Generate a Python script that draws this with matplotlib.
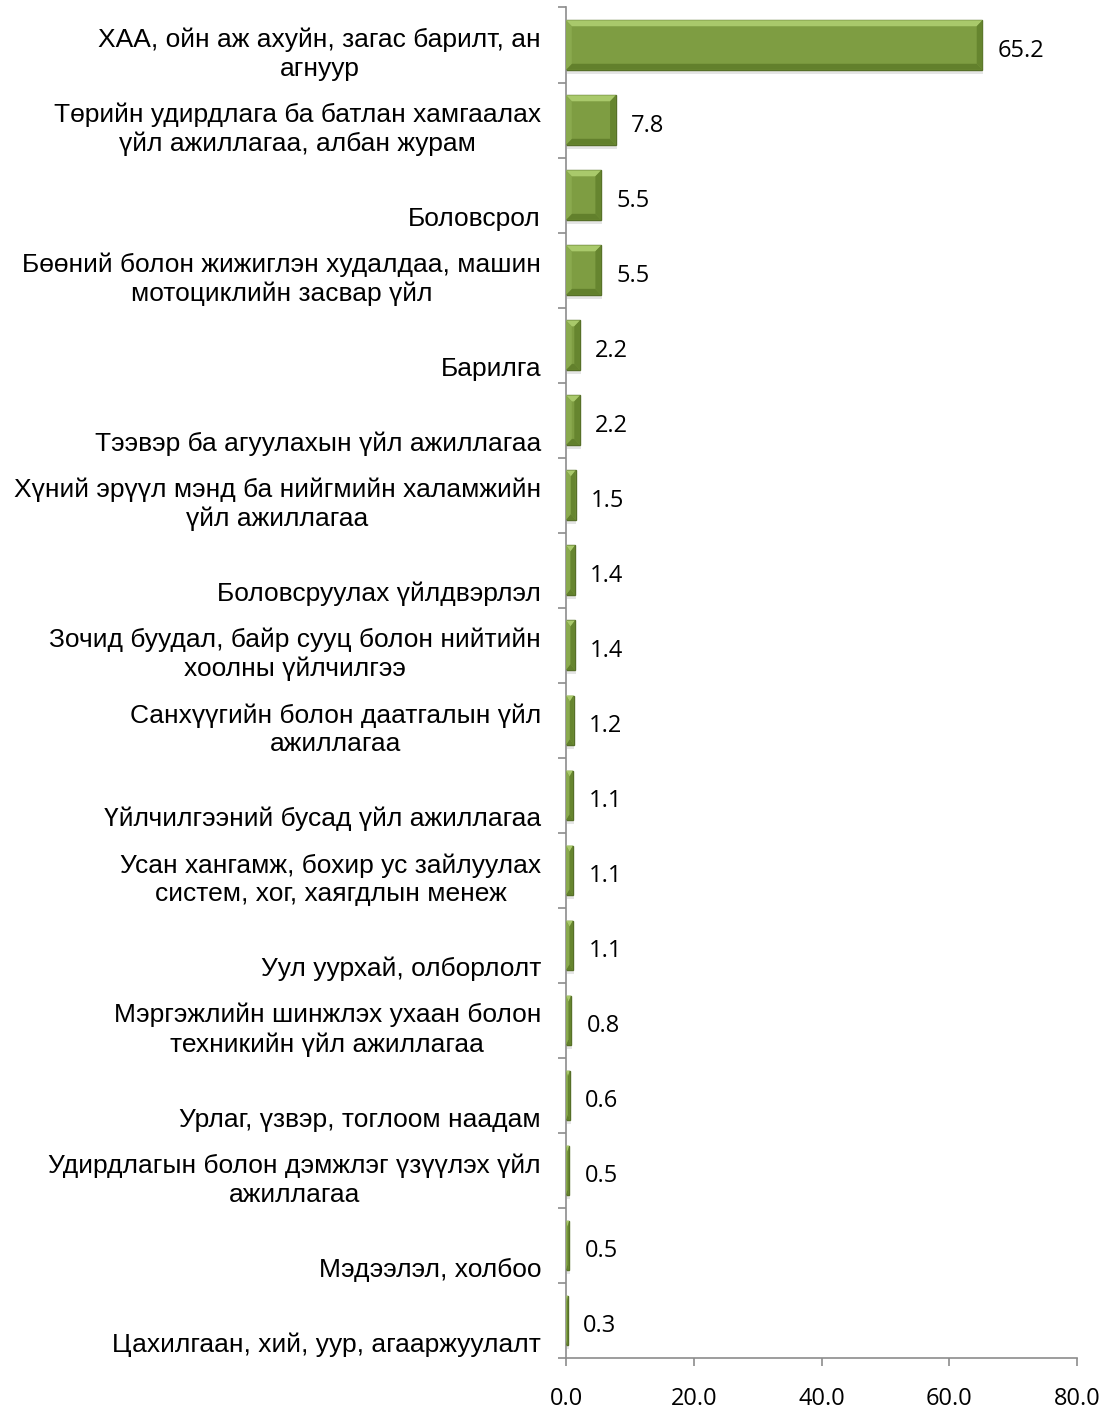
import matplotlib.pyplot as plt
from matplotlib.patches import Polygon
import numpy as np

# Sectors (top to bottom) and their shares, %
categories = [
    "ХАА, ойн аж ахуйн, загас барилт, ан\nагнуур",
    "Төрийн удирдлага ба батлан хамгаалах\nүйл ажиллагаа, албан журам",
    "Боловсрол",
    "Бөөний болон жижиглэн худалдаа, машин\nмотоциклийн засвар үйл",
    "Барилга",
    "Тээвэр ба агуулахын үйл ажиллагаа",
    "Хүний эрүүл мэнд ба нийгмийн халамжийн\nүйл ажиллагаа",
    "Боловсруулах үйлдвэрлэл",
    "Зочид буудал, байр сууц болон нийтийн\nхоолны үйлчилгээ",
    "Санхүүгийн болон даатгалын үйл\nажиллагаа",
    "Үйлчилгээний бусад үйл ажиллагаа",
    "Усан хангамж, бохир ус зайлуулах\nсистем, хог, хаягдлын менеж",
    "Уул уурхай, олборлолт",
    "Мэргэжлийн шинжлэх ухаан болон\nтехникийн үйл ажиллагаа",
    "Урлаг, үзвэр, тоглоом наадам",
    "Удирдлагын болон дэмжлэг үзүүлэх үйл\nажиллагаа",
    "Мэдээлэл, холбоо",
    "Цахилгаан, хий, уур, агааржуулалт",
]
values = [65.2, 7.8, 5.5, 5.5, 2.2, 2.2, 1.5, 1.4, 1.4, 1.2,
          1.1, 1.1, 1.1, 0.8, 0.6, 0.5, 0.5, 0.3]
xticks = [0, 20, 40, 60, 80]

fig = plt.figure(figsize=(11.07, 14.14), dpi=100)
ax = fig.add_axes([0.5113, 0.0396, 0.4616, 0.9551])

y = np.arange(len(categories))
h = 0.66

# shadow + main bar
ax.barh(y + 0.05, values, height=h, left=0.12, color='#000000', alpha=0.10, zorder=1)
ax.barh(y, values, height=h, color='#7e9d42', edgecolor='#566f28', linewidth=1, zorder=2)

# bevel: light top/left, dark bottom/right
bx, by = 0.9, 0.08
for yi, v in zip(y, values):
    dx = min(bx, v / 2)
    t, b = yi - h / 2, yi + h / 2
    top = [(0, t), (v, t), (v - dx, t + by), (dx, t + by)]
    bot = [(0, b), (v, b), (v - dx, b - by), (dx, b - by)]
    lft = [(0, t), (dx, t + by), (dx, b - by), (0, b)]
    rgt = [(v, t), (v - dx, t + by), (v - dx, b - by), (v, b)]
    for pts, c in [(top, '#a9c96b'), (bot, '#62802c'), (lft, '#8aaa4e'), (rgt, '#66852f')]:
        ax.add_patch(Polygon(pts, closed=True, facecolor=c, edgecolor='none', zorder=3))

for yi, v in zip(y, values):
    ax.annotate(f"{v:.1f}", xy=(v, yi), xytext=(11, -4), textcoords='offset points',
                ha='left', va='center', fontsize=17, family='Open Sans', color='black')

for i, lab in enumerate(categories):
    ax.annotate(lab, xy=(0, i + 0.5), xycoords=('axes fraction', 'data'),
                xytext=(-18, 1), textcoords='offset points',
                ha='right', va='bottom', ma='center', fontsize=19,
                family='Liberation Sans', linespacing=1.25, color='black')

ax.set_xlim(0, 80)
ax.set_ylim(len(categories) - 0.5, -0.5)
ax.set_xticks(xticks)
ax.set_xticklabels([f"{t:.1f}" for t in xticks], fontsize=17, family='Open Sans')
ax.set_yticks(np.arange(len(categories) + 1) - 0.5)
ax.set_yticklabels([])
ax.tick_params(axis='both', direction='out', length=6, color='#8c8c8c', width=1.2)
ax.tick_params(axis='x', pad=15)

for s in ['top', 'right']:
    ax.spines[s].set_visible(False)
for s in ['left', 'bottom']:
    ax.spines[s].set_color('#8c8c8c')
    ax.spines[s].set_linewidth(1.2)

fig.savefig('out.png', dpi=100)
